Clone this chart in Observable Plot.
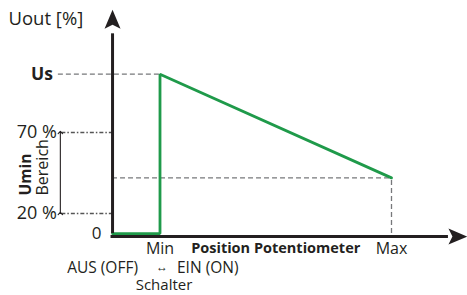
<!DOCTYPE html>
<html><head><meta charset="utf-8">
<script src="https://cdn.jsdelivr.net/npm/d3@7"></script>
<script src="https://cdn.jsdelivr.net/npm/@observablehq/plot@0.6"></script>
<style>body{margin:0;background:#fff} svg{display:block}</style>
</head><body><div id="chart"></div>
<script>
// potentiometer position in %: Min = 0, Max = 100; switch-off position left of Min
const xTickLabels = ["Min", "Max"];
const xTickValues = [0, 100];
const offPosition = -20.5;      // vertical axis (switch off)
// output levels in %
const yTickLabels = ["20 %", "70 %"];
const yTickValues = [20, 70];
const zeroLevel = 7.6;          // schematic (broken axis): drawn position of 0 %
const usLevel = 106;            // "Us" (start voltage)
const endLevel = 42;            // output at Max
const curveX = [offPosition, 0, 0, 100];
const curveY = [zeroLevel, zeroLevel, usLevel, endLevel];
const axisEndX = 124.6;
const axisEndY = 134;
const guideX = -42.4;

const green = "#1f9a4a";
const ink = "#231f20";
const grey = "#77787b";
const font = "Open Sans";

const arrowHead = {
  draw(ctx) {
    ctx.moveTo(0, -19);
    ctx.lineTo(8, 0);
    ctx.lineTo(0, -4);
    ctx.lineTo(-8, 0);
    ctx.closePath();
  }
};

const idx = curveX.map((_, i) => i);

const chart = Plot.plot({
  width: 467,
  height: 295,
  margin: 0,
  style: {fontFamily: font, background: "#fff"},
  x: {type: "linear", domain: [0, 100], range: [159.5, 391], axis: null},
  y: {type: "linear", domain: [20, 70], range: [213, 132], axis: null},
  marks: [
    // guides
    Plot.ruleY([usLevel], {x1: guideX - 1.5, x2: 0, stroke: grey, strokeWidth: 1.3, strokeDasharray: "5,3"}),
    Plot.ruleY(yTickValues, {x1: guideX, x2: offPosition, stroke: "#555", strokeWidth: 1.3, strokeDasharray: "4,2,1.5,2"}),
    Plot.ruleY([endLevel], {x1: offPosition, x2: xTickValues[1], stroke: grey, strokeWidth: 1.3, strokeDasharray: "5,3"}),
    Plot.ruleX([xTickValues[1]], {y1: zeroLevel, y2: endLevel, stroke: grey, strokeWidth: 1.3, strokeDasharray: "5,3"}),
    // Umin range double arrow
    Plot.link([0], {x1: guideX, x2: guideX, y1: yTickValues[0], y2: yTickValues[1], dx: -1.5, stroke: ink, strokeWidth: 1.1, marker: "arrow"}),
    // curve
    Plot.line(idx, {x: i => curveX[i], y: i => curveY[i], stroke: green, strokeWidth: 2.8, strokeLinejoin: "miter"}),
    // axes
    Plot.ruleX([offPosition], {y1: zeroLevel, y2: axisEndY, stroke: ink, strokeWidth: 3, insetBottom: -5}),
    Plot.ruleY([zeroLevel], {x1: offPosition, x2: axisEndX, dy: 3, stroke: ink, strokeWidth: 3, insetLeft: -1.5}),
    Plot.dot([0], {x: offPosition, y: axisEndY, symbol: arrowHead, fill: ink, stroke: null}),
    Plot.dot([0], {x: axisEndX, y: zeroLevel, dy: 3, symbol: arrowHead, rotate: 90, fill: ink, stroke: null}),
    // texts
    Plot.text(["Uout [%]"], {frameAnchor: "top-left", text: d => d, textAnchor: "start", lineAnchor: "middle", dx: 8, dy: 19, fontSize: 18.5, fill: ink}),
    Plot.text(["Us"], {x: guideX, y: usLevel, text: d => d, textAnchor: "end", dx: -9, fontSize: 17.5, fontWeight: "bold", fill: ink}),
    Plot.text(yTickValues, {x: guideX, y: d => d, text: (d, i) => yTickLabels[i], textAnchor: "end", dx: -5, fontSize: 18, fill: ink}),
    Plot.text(["0"], {x: offPosition, y: zeroLevel, text: d => d, textAnchor: "end", dx: -11, fontSize: 17, fill: ink}),
    Plot.text(["Umin"], {x: guideX, y: yTickValues[0], text: d => d, rotate: -90, textAnchor: "start", dx: -36, dy: -18, fontSize: 15.5, fontWeight: "bold", fill: ink}),
    Plot.text(["Bereich"], {x: guideX, y: yTickValues[0], text: d => d, rotate: -90, textAnchor: "start", dx: -19, dy: -18, fontSize: 16, fill: ink}),
    Plot.text(xTickValues, {x: d => d, y: zeroLevel, text: (d, i) => xTickLabels[i], dy: 15, fontSize: 16, fill: ink}),
    Plot.text(["Position Potentiometer"], {x: 50, y: zeroLevel, text: d => d, dy: 15, fontSize: 14.5, fontWeight: "bold", fill: ink}),
    Plot.text(["AUS (OFF)"], {x: 0, y: zeroLevel, text: d => d, textAnchor: "end", dx: -22, dy: 34.5, fontSize: 15.5, fill: ink}),
    Plot.text(["↔"], {x: 0, y: zeroLevel, text: d => d, dx: 2, dy: 34, fontSize: 12, fill: ink}),
    Plot.text(["EIN (ON)"], {x: 0, y: zeroLevel, text: d => d, textAnchor: "start", dx: 17, dy: 34.5, fontSize: 15.5, fill: ink}),
    Plot.text(["Schalter"], {x: 0, y: zeroLevel, text: d => d, dx: 4, dy: 51.5, fontSize: 15, fill: ink})
  ]
});
document.getElementById("chart").appendChild(chart);
</script>
</body></html>
